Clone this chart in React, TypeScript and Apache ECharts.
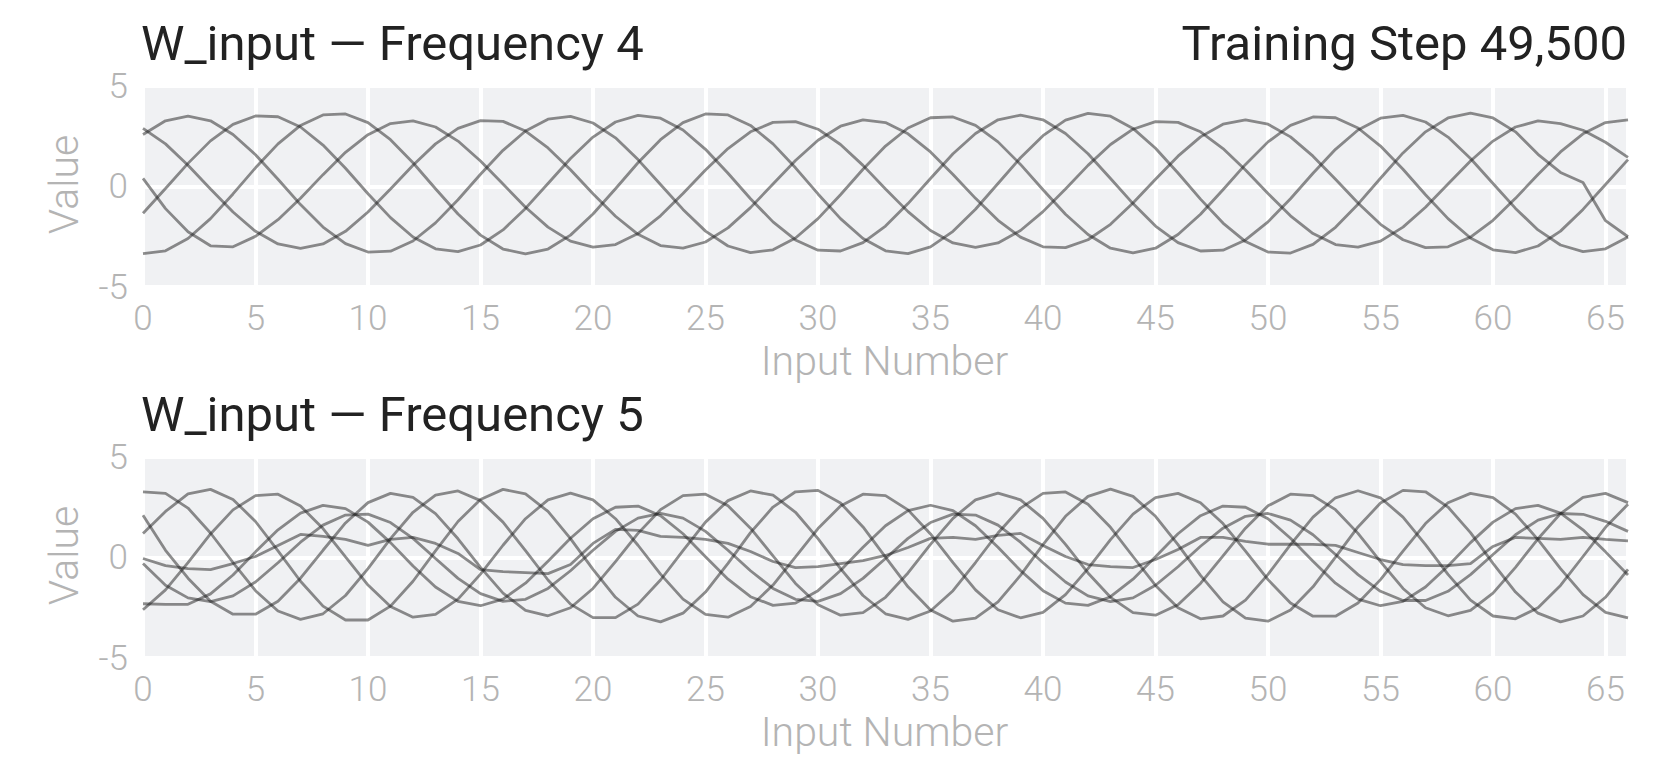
import React, { useEffect, useRef } from "react";
import * as echarts from "echarts";

// Input numbers 0..66
const inputNumbers: number[] = Array.from({ length: 67 }, (_, i) => i);
const xTicks = [0, 5, 10, 15, 20, 25, 30, 35, 40, 45, 50, 55, 60, 65];
const yTicks = [-5, 0, 5];

// ---- Frequency 4 (top panel) ----
const f4LineA = [2.59,3.27,3.5,3.27,2.59,1.58,0.36,-0.9,-2.02,-2.84,-3.26,-3.22,-2.71,-1.81,-0.66,0.61,1.8,2.76,3.35,3.49,3.16,2.42,1.34,0.1,-1.14,-2.22,-2.96,-3.29,-3.15,-2.56,-1.6,-0.41,0.86,2.01,2.91,3.42,3.46,3.04,2.22,1.1,-0.16,-1.38,-2.39,-3.07,-3.3,-3.07,-2.39,-1.38,-0.16,1.1,2.22,3.04,3.46,3.42,2.91,2.01,0.86,-0.41,-1.6,-2.56,-3.15,-3.29,-2.96,-2.22,-1.14,0.1,1.34];
const f4LineB = [2.89,2.12,1.06,-0.12,-1.27,-2.23,-2.86,-3.08,-2.86,-2.23,-1.27,-0.12,1.06,2.12,2.89,3.28,3.24,2.76,1.92,0.83,-0.36,-1.48,-2.38,-2.94,-3.07,-2.76,-2.06,-1.05,0.12,1.29,2.3,3.0,3.31,3.18,2.62,1.72,0.6,-0.59,-1.68,-2.52,-3.0,-3.04,-2.65,-1.88,-0.82,0.36,1.51,2.47,3.1,3.32,3.1,2.47,1.51,0.36,-0.82,-1.88,-2.65,-3.04,-3.0,-2.52,-1.68,-0.59,0.6,1.72,2.62,3.18,3.31];
const f4LineC = [0.4,-1.1,-2.25,-2.95,-3.0,-2.48,-1.65,-0.58,0.59,1.7,2.58,3.13,3.26,2.96,2.26,1.27,0.12,-1.03,-2.02,-2.72,-3.02,-2.89,-2.34,-1.46,-0.35,0.82,1.89,2.72,3.19,3.23,2.85,2.09,1.05,-0.12,-1.25,-2.19,-2.81,-3.03,-2.81,-2.19,-1.25,-0.12,1.05,2.09,2.85,3.23,3.19,2.72,1.89,0.82,-0.35,-1.46,-2.34,-2.89,-3.02,-2.72,-2.02,-1.03,0.12,1.27,2.26,2.96,3.26,3.13,2.8,2.2,1.45];
const f4LineD = [-1.33,-0.1,1.15,2.27,3.09,3.51,3.47,2.96,2.06,0.91,-0.36,-1.55,-2.51,-3.1,-3.24,-2.91,-2.16,-1.09,0.15,1.39,2.46,3.21,3.54,3.4,2.81,1.85,0.66,-0.61,-1.76,-2.66,-3.17,-3.21,-2.79,-1.97,-0.85,0.4,1.63,2.64,3.32,3.55,3.32,2.64,1.63,0.4,-0.85,-1.97,-2.79,-3.21,-3.17,-2.66,-1.76,-0.61,0.66,1.85,2.81,3.4,3.54,3.21,2.46,1.39,0.15,-1.09,-2.16,-2.91,-3.24,-3.1,-2.51];
const f4LineE = [-3.34,-3.2,-2.59,-1.6,-0.37,0.93,2.12,3.04,3.56,3.61,3.18,2.33,1.18,-0.11,-1.37,-2.42,-3.11,-3.35,-3.11,-2.42,-1.37,-0.11,1.18,2.33,3.18,3.61,3.56,3.04,2.12,0.93,-0.37,-1.6,-2.59,-3.2,-3.34,-3.0,-2.23,-1.13,0.15,1.43,2.53,3.3,3.64,3.5,2.89,1.9,0.67,-0.63,-1.82,-2.74,-3.26,-3.31,-2.88,-2.03,-0.88,0.41,1.67,2.72,3.41,3.65,3.41,2.72,1.6,0.7,0.2,-1.7,-2.5];

// ---- Frequency 5 (bottom panel) ----
const f5Line1 = [3.26,3.19,2.46,1.22,-0.25,-1.65,-2.66,-3.08,-2.8,-1.89,-0.55,0.94,2.25,3.1,3.31,2.83,1.76,0.34,-1.12,-2.32,-2.99,-2.99,-2.32,-1.12,0.34,1.76,2.83,3.31,3.1,2.25,0.94,-0.55,-1.89,-2.8,-3.08,-2.66,-1.65,-0.25,1.22,2.46,3.19,3.26,2.65,1.5,0.05,-1.39,-2.5,-3.05,-2.91,-2.12,-0.84,0.64,2.01,2.97,3.32,2.97,2.01,0.64,-0.84,-2.12,-2.91,-3.05,-2.5,-1.39,0.05,1.5,2.65];
const f5Line2 = [1.2,2.29,3.17,3.39,2.89,1.79,0.33,-1.18,-2.42,-3.11,-3.11,-2.42,-1.18,0.33,1.79,2.89,3.39,3.17,2.29,0.94,-0.59,-1.98,-2.91,-3.2,-2.77,-1.72,-0.29,1.24,2.51,3.27,3.34,2.71,1.52,0.02,-1.46,-2.61,-3.17,-3.02,-2.21,-0.89,0.64,2.05,3.04,3.4,3.04,2.05,0.64,-0.89,-2.21,-3.02,-3.17,-2.61,-1.46,0.02,1.52,2.71,3.34,3.27,2.51,1.24,-0.29,-1.72,-2.77,-3.2,-2.91,-1.98,-0.59];
const f5Line3 = [-2.6,-1.61,-0.26,1.17,2.37,3.08,3.15,2.56,1.44,0.03,-1.37,-2.44,-2.97,-2.83,-2.07,-0.83,0.61,1.93,2.87,3.2,2.87,1.93,0.61,-0.83,-2.07,-2.83,-2.97,-2.44,-1.37,0.03,1.44,2.56,3.15,3.08,2.37,1.17,-0.26,-1.61,-2.6,-3.0,-2.73,-1.85,-0.55,0.89,2.16,2.98,3.19,2.72,1.69,0.32,-1.1,-2.26,-2.92,-2.92,-2.26,-1.1,0.32,1.69,2.72,3.19,2.98,2.16,0.89,-0.55,-1.85,-2.73,-3.0];
const f5Line4 = [-2.3,-2.33,-2.33,-1.81,-0.87,0.28,1.38,2.21,2.59,2.43,1.76,0.74,-0.42,-1.47,-2.18,-2.4,-2.07,-1.28,-0.19,0.96,1.93,2.5,2.56,2.08,1.18,0.04,-1.08,-1.95,-2.38,-2.27,-1.65,-0.65,0.51,1.58,2.33,2.6,2.33,1.58,0.51,-0.65,-1.65,-2.27,-2.38,-1.95,-1.08,0.04,1.18,2.08,2.56,2.5,1.93,0.96,-0.19,-1.28,-2.07,-2.4,-2.18,-1.47,-0.42,0.74,1.76,2.43,2.59,2.21,1.38,0.28,-0.87];
const f5Line5 = [2.1,0.36,-1.03,-2.18,-2.82,-2.82,-2.18,-1.03,0.36,1.72,2.73,3.19,2.99,2.18,0.93,-0.49,-1.77,-2.63,-2.9,-2.5,-1.54,-0.21,1.2,2.38,3.08,3.15,2.57,1.46,0.08,-1.29,-2.35,-2.87,-2.74,-1.98,-0.77,0.65,1.95,2.87,3.2,2.87,1.95,0.65,-0.77,-1.98,-2.74,-2.87,-2.35,-1.29,0.08,1.46,2.57,3.15,3.08,2.38,1.2,-0.21,-1.54,-2.5,-2.9,-2.63,-1.77,-0.49,0.93,2.18,2.99,3.19,2.73];
const f5Line6 = [-0.3,-1.38,-2.01,-2.2,-1.91,-1.22,-0.26,0.76,1.61,2.11,2.16,1.74,0.95,-0.05,-1.04,-1.8,-2.18,-2.08,-1.54,-0.66,0.36,1.3,1.96,2.2,1.96,1.3,0.36,-0.66,-1.54,-2.08,-2.18,-1.8,-1.04,-0.05,0.95,1.74,2.16,2.11,1.61,0.76,-0.26,-1.22,-1.91,-2.2,-2.01,-1.38,-0.46,0.56,1.46,2.05,2.19,1.86,1.13,0.15,-0.85,-1.68,-2.14,-2.14,-1.68,-0.85,0.15,1.13,1.86,2.19,2.15,1.8,1.3];
const f5Line7 = [-0.05,-0.4,-0.55,-0.6,-0.3,0.05,0.6,1.15,1.05,0.9,0.6,0.9,1.0,0.7,0.2,-0.6,-0.7,-0.75,-0.8,-0.35,0.7,1.4,1.35,1.05,1.0,0.9,0.7,0.3,-0.2,-0.5,-0.45,-0.3,-0.15,0.1,0.5,0.95,1.0,0.9,1.1,1.2,0.6,0.05,-0.35,-0.45,-0.5,-0.1,0.4,1.0,1.0,0.8,0.66,0.66,0.65,0.6,0.25,-0.1,-0.35,-0.4,-0.4,-0.3,0.55,1.0,0.95,0.9,1.0,0.9,0.83];

const freq4Lines = [f4LineA, f4LineB, f4LineC, f4LineD, f4LineE];
const freq5Lines = [f5Line1, f5Line2, f5Line3, f5Line4, f5Line5, f5Line6, f5Line7];

const titleTop = "W_input — Frequency 4";
const titleBottom = "W_input — Frequency 5";
const stepLabel = "Training Step 49,500";
const xName = "Input Number";
const yName = "Value";

const TICK_COLOR = "#b4b4b4";
const LINE_COLOR = "rgba(30,30,30,0.5)";
const BG = "#f0f1f3";

export default function App() {
  const ref = useRef<HTMLDivElement>(null);

  useEffect(() => {
    if (!ref.current) return;
    const chart = echarts.init(ref.current, null, { renderer: "svg" });

    const gridTops = [86, 457];
    const gridH = 201;
    const gridLeft = 143;
    const gridW = 1485;

    const axisLabelStyle = {
      color: TICK_COLOR,
      fontFamily: "Roboto",
      fontWeight: 300 as any,
      fontSize: 35,
    };

    const grids = gridTops.map((t) => ({
      left: gridLeft,
      top: t,
      width: gridW,
      height: gridH,
      show: true,
      backgroundColor: BG,
      borderWidth: 0,
    }));

    const xAxes = gridTops.map((_, gi) => ({
      type: "value",
      gridIndex: gi,
      min: 0,
      max: 66,
      interval: 5,
      axisLine: { show: false },
      axisTick: { show: false },
      splitLine: { show: true, lineStyle: { color: "#ffffff", width: 4 } },
      axisLabel: {
        ...axisLabelStyle,
        margin: 14,
        showMaxLabel: false,
        formatter: (v: number) => (xTicks.includes(v) ? String(v) : ""),
      },
    }));

    const yAxes = gridTops.map((_, gi) => ({
      type: "value",
      gridIndex: gi,
      min: -5,
      max: 5,
      interval: 5,
      axisLine: { show: false },
      axisTick: { show: false },
      splitLine: { show: true, lineStyle: { color: "#ffffff", width: 4 } },
      axisLabel: {
        ...axisLabelStyle,
        margin: 15,
        formatter: (v: number) => (yTicks.includes(v) ? String(v) : ""),
      },
    }));

    const mkSeries = (arr: number[], gi: number) => ({
      type: "line",
      xAxisIndex: gi,
      yAxisIndex: gi,
      showSymbol: false,
      symbol: "none",
      silent: true,
      lineStyle: { color: LINE_COLOR, width: 2.8 },
      data: inputNumbers.map((x, i) => [x, arr[i]]),
    });

    const series = [
      ...freq4Lines.map((a) => mkSeries(a, 0)),
      ...freq5Lines.map((a) => mkSeries(a, 1)),
    ];

    const titleFont = "400 49px Roboto";
    const nameFont = "300 41px Roboto";
    const graphic: any[] = [];
    [titleTop, titleBottom].forEach((t, i) => {
      graphic.push({
        type: "text",
        x: 141,
        y: 43 + i * 371,
        style: { text: t, font: titleFont, fill: "#222222", align: "left", verticalAlign: "middle" },
      });
    });
    graphic.push({
      type: "text",
      x: 1627,
      y: 43,
      style: { text: stepLabel, font: titleFont, fill: "#222222", align: "right", verticalAlign: "middle" },
    });
    [0, 1].forEach((i) => {
      graphic.push({
        type: "text",
        x: gridLeft + gridW / 2 - 1,
        y: 361 + i * 371,
        style: { text: xName, font: nameFont, fill: TICK_COLOR, align: "center", verticalAlign: "middle" },
      });
      graphic.push({
        type: "text",
        x: 64,
        y: gridTops[i] + gridH / 2 - 2,
        rotation: Math.PI / 2,
        style: { text: yName, font: nameFont, fill: TICK_COLOR, align: "center", verticalAlign: "middle" },
      });
    });

    chart.setOption({
      animation: false,
      backgroundColor: "#ffffff",
      grid: grids,
      xAxis: xAxes,
      yAxis: yAxes,
      series,
      graphic,
    });

    return () => chart.dispose();
  }, []);

  return (
    <div
      ref={ref}
      style={{ position: "absolute", left: 0, top: 0, width: 1675, height: 760 }}
    />
  );
}
